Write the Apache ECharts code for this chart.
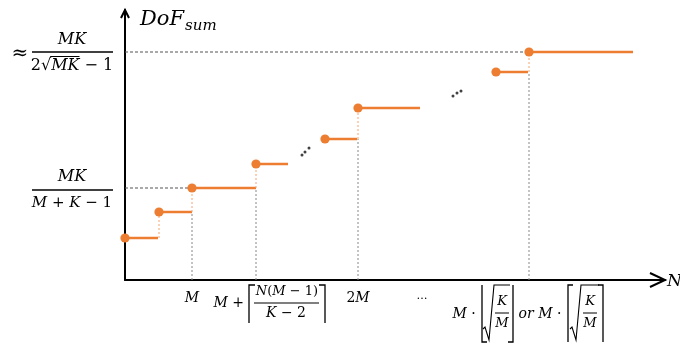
<!DOCTYPE html>
<html><head><meta charset="utf-8">
<script src="https://cdn.jsdelivr.net/npm/echarts@6/dist/echarts.min.js"></script>
<style>html,body{margin:0;padding:0;background:#fff}#c{width:680px;height:347px}</style>
</head><body><div id="c"></div>
<script>
// ---- data ----
const stepStarts = [0, 34, 67, 131, 200, 233, 371, 404];
const stepEnds   = [33, 67, 131, 163, 232, 295, 403, 508];
const stepValues = [42, 68, 92, 116, 141, 172, 208, 228];
const connected  = [false, true, true, true, false, true, false, true];
const dropSteps  = [2, 3, 5, 7];
const yTickValues = [92, 228];
const xTickValues = [67, 131, 233, 404];
const ellipsis1 = [[177,125],[180,128],[184,132]];
const ellipsis2 = [[328,184],[332,187],[336,189]];
const xEllipsisAt = 297;
const xMax = 540, yMax = 270;

const ORANGE = '#ED7D31';
const FONT = '"DejaVu Serif", "Liberation Serif", serif';

// build series tables
const stepData = stepStarts.map((s, i) => [s, stepEnds[i], stepValues[i], i > 0 ? stepValues[i-1] : stepValues[i], connected[i] ? 1 : 0]);
const guideV = dropSteps.map(i => [stepStarts[i], 0, stepStarts[i], stepValues[i-1]]);
const guideH = yTickValues.map(v => { const i = stepValues.indexOf(v); return [0, v, stepStarts[i], v]; });

const chart = echarts.init(document.getElementById('c'), null, {renderer: 'canvas'});
chart.setOption({
  animation: false,
  backgroundColor: '#fff',
  grid: {left: 125, right: 15, top: 10, bottom: 67},
  xAxis: {type: 'value', min: 0, max: xMax, axisLine: {show: true, onZero: false, lineStyle: {color: '#000', width: 2}},
          axisTick: {show: false}, axisLabel: {show: false}, splitLine: {show: false}},
  yAxis: {type: 'value', min: 0, max: yMax, axisLine: {show: true, onZero: false, lineStyle: {color: '#000', width: 2}},
          axisTick: {show: false}, axisLabel: {show: false}, splitLine: {show: false}},
  series: [
    {type: 'custom', name: 'guides', z: 1, data: guideV.concat(guideH),
     renderItem: (p, api) => {
       const a = api.coord([api.value(0), api.value(1)]);
       const b = api.coord([api.value(2), api.value(3)]);
       const horiz = api.value(1) === api.value(3);
       return {type: 'line', shape: {x1: a[0], y1: a[1], x2: b[0], y2: b[1]},
               style: {stroke: horiz ? '#555' : '#888', lineWidth: 1, lineDash: horiz ? [3, 2] : [2, 2]}};
     }},
    {type: 'custom', name: 'steps', z: 3, data: stepData,
     renderItem: (p, api) => {
       const s = api.coord([api.value(0), api.value(2)]);
       const e = api.coord([api.value(1), api.value(2)]);
       const pv = api.coord([api.value(0), api.value(3)]);
       const children = [];
       if (api.value(4)) children.push({type: 'line', shape: {x1: s[0], y1: pv[1], x2: s[0], y2: s[1]},
                                        style: {stroke: '#F4A46E', lineWidth: 1, lineDash: [2, 2]}});
       children.push({type: 'line', shape: {x1: s[0], y1: s[1], x2: e[0], y2: e[1]}, style: {stroke: ORANGE, lineWidth: 2.5}});
       children.push({type: 'circle', shape: {cx: s[0], cy: s[1], r: 4.6}, style: {fill: ORANGE}});
       return {type: 'group', children};
     }},
    {type: 'scatter', name: 'dots', z: 2, data: ellipsis1.concat(ellipsis2), symbolSize: 3,
     itemStyle: {color: '#111'}, silent: true}
  ]
});

// ---- labels ----
const ctx = document.createElement('canvas').getContext('2d');
function tw(t, size, italic) { ctx.font = (italic ? 'italic ' : '') + size + 'px ' + FONT; return ctx.measureText(t).width; }
function rich(size) {
  return {i: {fontStyle: 'italic', fontSize: size, fontFamily: FONT, fill: '#000'},
          u: {fontStyle: 'normal', fontSize: size, fontFamily: FONT, fill: '#000'}};
}
function T(x, y, text, size, align, extra) {
  return {type: 'text', x, y, silent: true, z: 100,
          style: Object.assign({text, fontSize: size, fontFamily: FONT, rich: rich(size), fill: '#000',
                                align: align || 'center', verticalAlign: 'middle'}, extra || {})};
}
function L(x1, y1, x2, y2, w) { return {type: 'line', silent: true, z: 100, shape: {x1, y1, x2, y2}, style: {stroke: '#000', lineWidth: w || 1.2}}; }
function P(pts, w) { return {type: 'polyline', silent: true, z: 100, shape: {points: pts}, style: {stroke: '#000', lineWidth: w || 1.3, fill: null}}; }

const px = v => chart.convertToPixel({gridIndex: 0}, [v, 0])[0];
const py = v => chart.convertToPixel({gridIndex: 0}, [0, v])[1];
const ax = px(0), ay = py(0);
const g = [];

// axis arrows
const xt = px(xMax), yt = py(yMax);
g.push(P([[xt - 15, ay - 7], [xt, ay], [xt - 15, ay + 7]], 2));
g.push(P([[ax - 4, yt + 8], [ax, yt], [ax + 4, yt + 8]], 2));
// axis names
g.push(T(ax + 15, yt + 10, '{i|DoF}', 21, 'left'));
const dw = tw('DoF', 21, true);
g.push(T(ax + 15 + dw + 1, yt + 16, '{i|sum}', 15, 'left'));
g.push(T(xt + 2, ay + 2, '{i|N}', 17, 'left'));

// y labels
const lc = ax - 53;
{ // 228
  const ty = py(yTickValues[1]);
  g.push(T(20, ty + 2, '{u|≈}', 20));
  g.push(T(lc, ty - 12, '{i|MK}', 16));
  g.push(L(ax - 93, ty, ax - 12, ty, 1.3));
  const p1 = '2√', p2 = 'MK', p3 = ' − 1';
  g.push(T(lc, ty + 14, '{u|' + p1 + '}{i|' + p2 + '}{u|' + p3 + '}', 16));
  const wa = tw(p1, 16, false), wb = tw(p2, 16, true), wc = tw(p3, 16, false);
  const st = lc - (wa + wb + wc) / 2;
  g.push(L(st + wa - 1, ty + 4.5, st + wa + wb, ty + 4.5, 1));
}
{ // 92
  const ty = py(yTickValues[0]);
  g.push(T(lc, ty - 11, '{i|MK}', 16));
  g.push(L(ax - 93, ty + 2, ax - 12, ty + 2, 1.3));
  g.push(T(lc, ty + 15, '{i|M}{u| + }{i|K}{u| − 1}', 15));
}

// x labels
{ const tx = px(xTickValues[0]); g.push(T(tx, ay + 18, '{i|M}', 14)); }
{
  const tx = px(xTickValues[1]);
  g.push(T(tx - 12, ay + 23, '{i|M}{u| +}', 14, 'right'));
  g.push(P([[tx - 7, ay + 43], [tx - 7, ay + 5], [tx - 1, ay + 5]]));
  g.push(T(tx + 31, ay + 12, '{i|N}{u|(}{i|M}{u| − 1)}', 13));
  g.push(L(tx - 2, ay + 23, tx + 63, ay + 23, 1.1));
  g.push(T(tx + 30, ay + 33, '{i|K}{u| − 2}', 14));
  g.push(P([[tx + 63, ay + 5], [tx + 69, ay + 5], [tx + 69, ay + 43]]));
}
{ const tx = px(xTickValues[2]); g.push(T(tx, ay + 18, '{u|2}{i|M}', 14)); }
g.push(T(px(xEllipsisAt), ay + 16, '{u|…}', 11));
{
  const tx = px(xTickValues[3]);
  const b0 = ay + 5, b1 = ay + 62;
  g.push(T(tx - 65, ay + 34, '{i|M}{u| ·}', 14));
  g.push(P([[tx - 47, b0], [tx - 47, b1], [tx - 42, b1]]));
  g.push(P([[tx - 46, ay + 49], [tx - 44, ay + 47], [tx - 40, b1 - 2], [tx - 35, b0], [tx - 19, b0]], 1.1));
  g.push(T(tx - 27, ay + 22, '{i|K}', 13));
  g.push(L(tx - 34, ay + 33, tx - 20, ay + 33, 1));
  g.push(T(tx - 27, ay + 44, '{i|M}', 13));
  g.push(P([[tx - 21, b1], [tx - 16, b1], [tx - 16, b0]]));
  g.push(T(tx + 11, ay + 34, '{i|or M}{u| ·}', 14));
  g.push(P([[tx + 39, b1], [tx + 39, b0], [tx + 44, b0]]));
  g.push(P([[tx + 41, ay + 49], [tx + 43, ay + 47], [tx + 47, b1 - 2], [tx + 52, b0], [tx + 70, b0]], 1.1));
  g.push(T(tx + 61, ay + 22, '{i|K}', 13));
  g.push(L(tx + 54, ay + 33, tx + 68, ay + 33, 1));
  g.push(T(tx + 61, ay + 44, '{i|M}', 13));
  g.push(P([[tx + 69, b0], [tx + 74, b0], [tx + 74, b1]]));
}
chart.setOption({graphic: {elements: g}});
</script></body></html>
